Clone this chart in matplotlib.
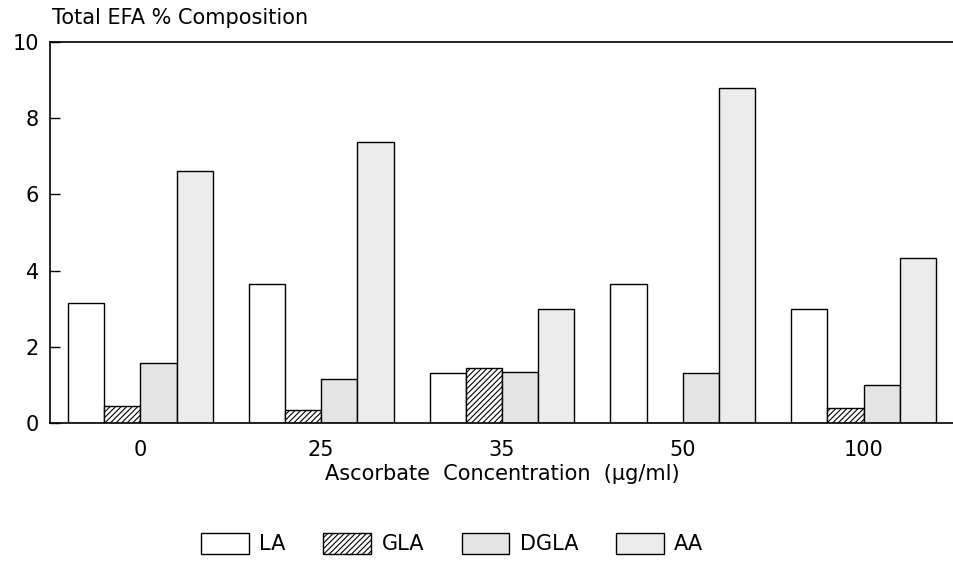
import numpy as np
import matplotlib.pyplot as plt

plt.rcParams['font.family'] = ['DejaVu Sans']
plt.rcParams['hatch.linewidth'] = 0.8

# Data
concentrations = ['0', '25', '35', '50', '100']
series_names = ['LA', 'GLA', 'DGLA', 'AA']
la = [3.15, 3.65, 1.30, 3.65, 3.00]
gla = [0.45, 0.35, 1.45, 0.0, 0.40]
dgla = [1.57, 1.15, 1.35, 1.30, 1.00]
aa = [6.62, 7.37, 3.00, 8.80, 4.32]

fills = ['white', 'white', '#e4e4e4', '#ececec']
hatches = [None, '//////', None, None]

fig = plt.figure(figsize=(9.54, 5.66), dpi=100)
ax = fig.add_axes([0.0524, 0.2527, 0.9476, 0.6731])

x = np.arange(len(concentrations))
w = 0.2
handles = []
for i, (name, vals) in enumerate(zip(series_names, [la, gla, dgla, aa])):
    b = ax.bar(x - 1.5 * w + i * w, vals, width=w, color=fills[i], edgecolor='black',
               linewidth=1.0, hatch=hatches[i], label=name)
    handles.append(b)

ax.set_xlim(-0.5, 4.5)
ax.set_ylim(0, 10)
ax.set_yticks([0, 2, 4, 6, 8, 10])
ax.set_xticks(x)
ax.set_xticklabels(concentrations)
ax.tick_params(axis='y', direction='in', length=7, width=1, labelsize=15, pad=8)
ax.tick_params(axis='x', length=0, labelsize=15, pad=12)
for s in ['left', 'top', 'bottom']:
    ax.spines[s].set_linewidth(1.2)
ax.spines['right'].set_visible(False)

ax.set_xlabel('Ascorbate  Concentration  (µg/ml)', fontsize=15, labelpad=3)
fig.text(0.055, 0.95, 'Total EFA % Composition', fontsize=15, ha='left', va='bottom')

fig.legend(handles=handles, labels=series_names, loc='center', bbox_to_anchor=(0.474, 0.04),
           ncol=4, frameon=False, fontsize=15, handlelength=2.3, handleheight=1.2,
           columnspacing=1.8, handletextpad=0.5)

fig.savefig('out.png', dpi=100)
